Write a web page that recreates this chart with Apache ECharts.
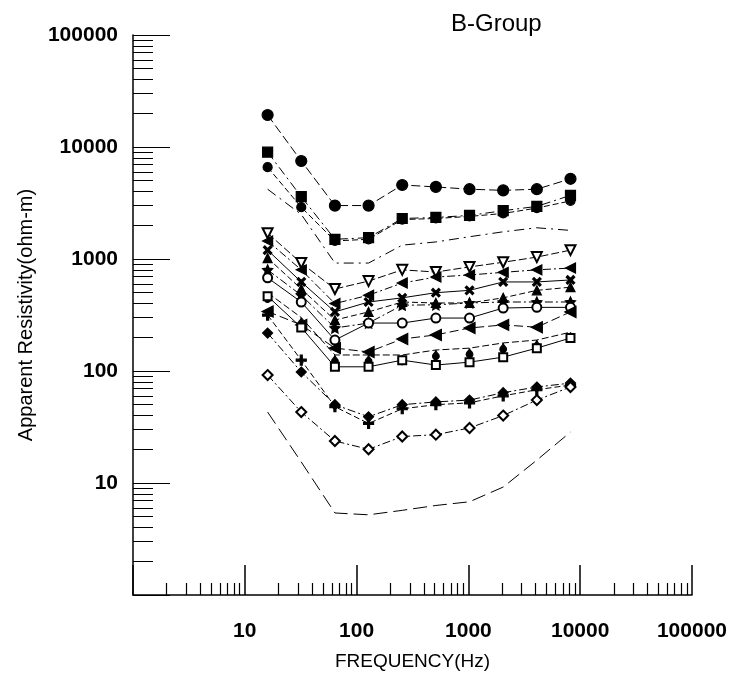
<!DOCTYPE html>
<html>
<head>
<meta charset="utf-8">
<script src="https://cdn.jsdelivr.net/npm/echarts@6/dist/echarts.min.js"></script>
<style>
  html, body { margin: 0; padding: 0; background: #fff; }
  #chart { width: 730px; height: 682px; }
</style>
</head>
<body>
<div id="chart"></div>
<script>
// frequencies (Hz) at which every curve was sounded
const freqs = [16, 32, 64, 128, 256, 512, 1024, 2048, 4096, 8192];

// apparent resistivity (ohm-m)
const top1 = [19300, 7500, 3000, 3000, 4580, 4400, 4200, 4100, 4200, 5200];
const top2 = [9000, 3600, 1500, 1550, 2300, 2350, 2450, 2700, 2950, 3700];
const top3 = [6600, 2900, 1450, 1500, 2250, 2300, 2400, 2550, 2850, 3300];
const plainUpper = [4200, 2500, 920, 920, 1330, 1420, 1580, 1750, 1900, 1800];
const mid1 = [1700, 920, 540, 635, 800, 765, 850, 935, 1040, 1200];
const mid2 = [1450, 800, 400, 475, 610, 690, 720, 760, 800, 830];
const mid3 = [1200, 624, 337, 413, 450, 500, 525, 624, 624, 650];
const mid4 = [1020, 540, 285, 337, 413, 405, 405, 450, 525, 560];
const mid5 = [800, 475, 242, 268, 387, 390, 405, 413, 413, 413];
const mid6 = [680, 413, 189, 268, 268, 297, 297, 365, 370, 370];
const mid7 = [340, 258, 160, 148, 193, 210, 242, 258, 246, 337];
const mid8 = [500, 300, 139, 139, 139, 154, 160, 178, 189, 222];
const mid9 = [465, 245, 109, 109, 125, 113, 120, 133, 160, 197];
const low1 = [218, 98, 50, 39, 50, 53, 55, 64, 72, 78];
const low2 = [316, 125, 48, 34, 46, 50, 52, 60, 68, 75];
const low3 = [92, 43, 23.7, 20, 26, 27, 31, 40, 55, 72];
const plainLower = [43, 15.4, 5.4, 5.2, 5.7, 6.3, 6.8, 9.2, 16, 28.5];

const xTicks = [10, 100, 1000, 10000, 100000];
const yTicks = [10, 100, 1000, 10000, 100000];

const STAR = 'path://M0,-10L2.9,-4L9.5,-3.1L4.7,1.5L5.9,8.1L0,5L-5.9,8.1L-4.7,1.5L-9.5,-3.1L-2.9,-4Z';
const PLUS = 'path://M-1,-5L1,-5L1,-1L5,-1L5,1L1,1L1,5L-1,5L-1,1L-5,1L-5,-1L-1,-1Z';

function curve(name, vals, symbol, opts) {
  opts = opts || {};
  return {
    name: name,
    type: 'line',
    data: freqs.map((f, i) => [f, vals[i]]),
    symbol: symbol,
    symbolSize: opts.size || 9,
    symbolRotate: opts.rotate || 0,
    showAllSymbol: true,
    itemStyle: { color: '#000', borderColor: '#000', borderWidth: 1.2 },
    lineStyle: { color: '#000', width: 1, type: opts.dash || 'solid' },
    emphasis: { disabled: true },
    z: 3
  };
}

const chart = echarts.init(document.getElementById('chart'));

const axisFont = 'Liberation Sans, Arial, sans-serif';

chart.setOption({
  animation: false,
  backgroundColor: '#fff',
  title: {
    text: 'B-Group',
    left: 446,
    top: 7,
    textStyle: { fontFamily: axisFont, fontSize: 24, fontWeight: 'normal', color: '#000' }
  },
  grid: { left: 133, right: 37, top: 35, bottom: 87 },
  xAxis: {
    type: 'log',
    logBase: 10,
    min: 1,
    max: 100000,
    name: 'FREQUENCY(Hz)',
    nameLocation: 'middle',
    nameGap: 57,
    nameTextStyle: { fontFamily: axisFont, fontSize: 19, color: '#000' },
    axisLine: { lineStyle: { color: '#000', width: 1.5 } },
    axisTick: { inside: true, length: 30, lineStyle: { color: '#000', width: 1.5 } },
    minorTick: { show: true, splitNumber: 9, length: 12, lineStyle: { color: '#000', width: 1.2 } },
    splitLine: { show: false },
    minorSplitLine: { show: false },
    axisLabel: {
      margin: 26,
      fontFamily: axisFont,
      fontSize: 21,
      fontWeight: 'bold',
      color: '#000',
      formatter: v => xTicks.indexOf(v) >= 0 ? String(v) : ''
    }
  },
  yAxis: {
    type: 'log',
    logBase: 10,
    min: 1,
    max: 100000,
    name: 'Apparent Resistivity(ohm-m)',
    nameLocation: 'middle',
    nameGap: 97,
    nameTextStyle: { fontFamily: axisFont, fontSize: 20, color: '#000' },
    axisLine: { lineStyle: { color: '#000', width: 1.5 } },
    axisTick: { inside: true, length: 37, lineStyle: { color: '#000', width: 1.2 } },
    minorTick: { show: true, splitNumber: 9, length: 20, lineStyle: { color: '#000', width: 1 } },
    splitLine: { show: false },
    minorSplitLine: { show: false },
    axisLabel: {
      margin: 15,
      fontFamily: axisFont,
      fontSize: 21,
      fontWeight: 'bold',
      color: '#000',
      formatter: v => yTicks.indexOf(v) >= 0 ? String(v) : ''
    }
  },
  series: [
    curve('top1', top1, 'circle', { size: 11, dash: [9, 4] }),
    curve('top2', top2, 'rect', { size: 10, dash: [9, 4, 2, 4] }),
    curve('top3', top3, 'circle', { size: 9, dash: [6, 3] }),
    curve('plainUpper', plainUpper, 'none', { dash: [10, 5, 2, 5] }),
    curve('mid1', mid1, 'emptyTriangle', { size: 10, rotate: 180, dash: [8, 3] }),
    curve('mid2', mid2, 'triangle', { size: 10, rotate: 90, dash: [8, 3, 2, 3] }),
    curve('mid3', mid3, PLUS, { size: 10, rotate: 45 }),
    curve('mid4', mid4, 'triangle', { size: 9, dash: [6, 3] }),
    curve('mid5', mid5, STAR, { size: 10, dash: [8, 3, 2, 3] }),
    curve('mid6', mid6, 'emptyCircle', { size: 9 }),
    curve('mid7', mid7, 'triangle', { size: 11, rotate: 90, dash: [9, 4] }),
    curve('mid8', mid8, 'pin', { size: 11, rotate: 180, dash: [7, 3] }),
    curve('mid9', mid9, 'emptyRect', { size: 8 }),
    curve('low1', low1, 'diamond', { size: 10, dash: [8, 3, 2, 3] }),
    curve('low2', low2, PLUS, { size: 10, dash: [6, 3] }),
    curve('low3', low3, 'emptyDiamond', { size: 10, dash: [8, 3, 2, 3] }),
    curve('plainLower', plainLower, 'none', { dash: [14, 6] })
  ]
});
</script>
</body>
</html>
